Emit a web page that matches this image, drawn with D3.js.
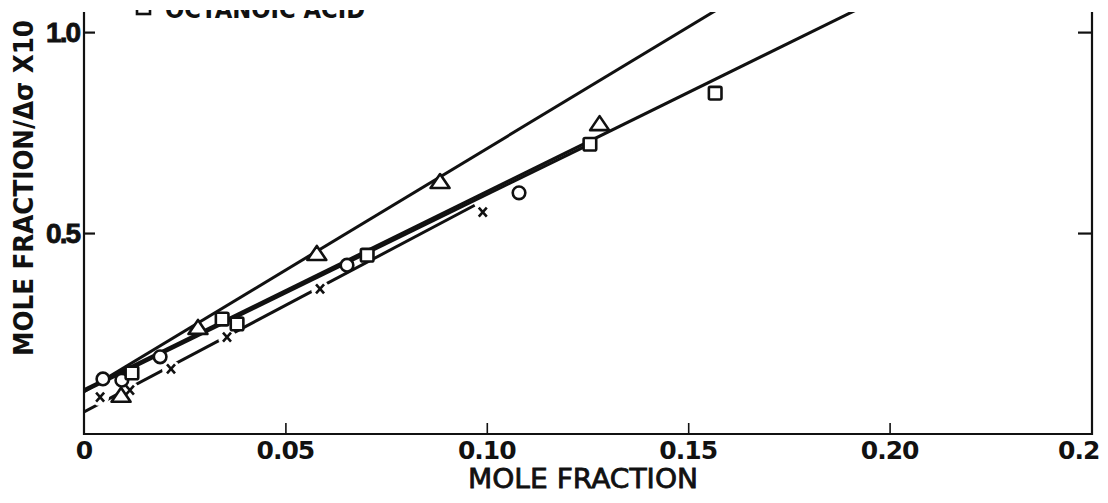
<!DOCTYPE html>
<html>
<head>
<meta charset="utf-8">
<script src="https://cdn.jsdelivr.net/npm/d3@7"></script>
<style>
  html, body { margin: 0; padding: 0; background: #fff; }
  text { fill: #111; }
</style>
</head>
<body>
<div id="chart"></div>
<script>
// values
const TRI_X = [0.0092, 0.0283, 0.0578, 0.0884, 0.128];
const TRI_Y = [0.095, 0.264, 0.448, 0.627, 0.771];
const CIR_X = [0.0047, 0.0094, 0.0189, 0.0653, 0.108];
const CIR_Y = [0.137, 0.134, 0.192, 0.420, 0.600];
const SQR_X = [0.0119, 0.0343, 0.0380, 0.0703, 0.1256, 0.1567];
const SQR_Y = [0.152, 0.286, 0.274, 0.445, 0.721, 0.848];
const CRS_X = [0.004, 0.0114, 0.0216, 0.0355, 0.0586, 0.099];
const CRS_Y = [0.092, 0.109, 0.162, 0.241, 0.361, 0.552];

// fitted lines: [intercept, slope, x start, x end]
const FITS = [
  [0.105, 6.05, 0, 0.2],     // triangles
  [0.110, 4.93, 0, 0.25],    // squares
  [0.106, 4.90, 0, 0.1256],  // circles
  [0.055, 5.30, 0, 0.097]    // crosses
];

const X_TICKS = [0, 0.05, 0.10, 0.15, 0.20, 0.25];
const X_TICK_LABELS = ["0", "0.05", "0.10", "0.15", "0.20", "0.2"];
const Y_TICKS = [0.5, 1.0];
const Y_TICK_LABELS = ["0.5", "1.0"];
const LEGEND_LABEL = "OCTANOIC ACID";

const WIDTH = 1108;
const HEIGHT = 503;
const LEFT = 84;
const RIGHT = 1091;
const TOP = 12;
const BOTTOM = 434;
const TICK = 11;

const x = d3.scaleLinear().domain([0, 0.25]).range([LEFT, RIGHT]);
const y = d3.scaleLinear().domain([0, 1.05]).range([BOTTOM, TOP]);

function zip(xs, ys) {
  return xs.map((d, i) => ({ x: d, y: ys[i] }));
}

const svg = d3.select("#chart").append("svg")
    .attr("width", WIDTH)
    .attr("height", HEIGHT);

const defs = svg.append("defs");
defs.append("clipPath").attr("id", "plot")
  .append("rect")
    .attr("x", LEFT).attr("y", TOP)
    .attr("width", RIGHT - LEFT).attr("height", BOTTOM - TOP);
defs.append("clipPath").attr("id", "top")
  .append("rect")
    .attr("x", 0).attr("y", 10)
    .attr("width", WIDTH).attr("height", HEIGHT);

// frame
svg.append("path")
    .attr("d", `M${LEFT},${TOP}V${BOTTOM}H${RIGHT + 1}V${TOP}`)
    .attr("fill", "none")
    .attr("stroke", "#111")
    .attr("stroke-width", 2.2);

// x axis (ticks point inward)
const xAxis = d3.axisTop(x)
    .tickValues(X_TICKS.slice(1, -1))
    .tickSize(TICK)
    .tickFormat("");
svg.append("g")
    .attr("transform", `translate(0,${BOTTOM})`)
    .call(xAxis)
    .call(g => g.select(".domain").remove())
    .call(g => g.selectAll("line").attr("stroke", "#111").attr("stroke-width", 1.6));

svg.append("g").selectAll("text")
  .data(X_TICKS)
  .enter().append("text")
    .attr("x", (d, i) => i === X_TICKS.length - 1 ? x(d) - 33 : x(d))
    .attr("y", 459)
    .attr("text-anchor", (d, i) => i === X_TICKS.length - 1 ? "start" : "middle")
    .attr("font-family", "DejaVu Sans")
    .attr("font-weight", "bold")
    .attr("font-size", 25)
    .attr("letter-spacing", -1)
    .text((d, i) => X_TICK_LABELS[i]);

// y axes, left and right
svg.append("g")
    .attr("transform", `translate(${LEFT},0)`)
    .call(d3.axisRight(y).tickValues(Y_TICKS).tickSize(TICK).tickFormat(""))
    .call(g => g.select(".domain").remove())
    .call(g => g.selectAll("line").attr("stroke", "#111").attr("stroke-width", 2.2));
svg.append("g")
    .attr("transform", `translate(${RIGHT + 1},0)`)
    .call(d3.axisLeft(y).tickValues(Y_TICKS).tickSize(TICK + 3).tickFormat(""))
    .call(g => g.select(".domain").remove())
    .call(g => g.selectAll("line").attr("stroke", "#111").attr("stroke-width", 2.2));

svg.append("g").selectAll("text")
  .data(Y_TICKS)
  .enter().append("text")
    .attr("x", 79)
    .attr("y", d => y(d) + 10)
    .attr("text-anchor", "end")
    .attr("font-family", "Liberation Sans")
    .attr("font-weight", "bold")
    .attr("font-size", 28)
    .attr("letter-spacing", -2)
    .attr("stroke", "#111")
    .attr("stroke-width", 0.8)
    .text((d, i) => Y_TICK_LABELS[i]);

// axis titles
svg.append("text")
    .attr("transform", "translate(33,188) rotate(-90)")
    .attr("text-anchor", "middle")
    .attr("font-family", "DejaVu Sans")
    .attr("font-weight", "bold")
    .attr("font-size", 26)
    .attr("textLength", 336)
    .attr("lengthAdjust", "spacingAndGlyphs")
    .text("MOLE FRACTION/Δσ X10");

svg.append("text")
    .attr("x", 583)
    .attr("y", 488)
    .attr("text-anchor", "middle")
    .attr("font-family", "DejaVu Sans")
    .attr("font-size", 27)
    .attr("stroke", "#111")
    .attr("stroke-width", 0.8)
    .attr("textLength", 230)
    .attr("lengthAdjust", "spacingAndGlyphs")
    .text("MOLE FRACTION");

const plot = svg.append("g").attr("clip-path", "url(#plot)");

// fitted lines
plot.selectAll("line.fit")
  .data(FITS)
  .enter().append("line")
    .attr("class", "fit")
    .attr("x1", d => x(d[2]))
    .attr("y1", d => y(d[0] + d[1] * d[2]))
    .attr("x2", d => x(d[3]))
    .attr("y2", d => y(d[0] + d[1] * d[3]))
    .attr("stroke", "#111")
    .attr("stroke-width", 3);

// crosses break their line
const crosses = plot.selectAll("g.crs")
  .data(zip(CRS_X, CRS_Y))
  .enter().append("g")
    .attr("class", "crs")
    .attr("transform", d => `translate(${x(d.x)},${y(d.y)})`);
crosses.append("circle")
    .attr("r", 9)
    .attr("fill", "#fff");
crosses.append("path")
    .attr("d", "M-4,-4.5L4,4.5M4,-4.5L-4,4.5")
    .attr("stroke", "#111")
    .attr("stroke-width", 2.6)
    .attr("fill", "none");

const marker = { fill: "#fff", stroke: "#111", "stroke-width": 2.6 };

function style(sel) {
  Object.entries(marker).forEach(([k, v]) => sel.attr(k, v));
  return sel;
}

plot.selectAll("circle.cir")
  .data(zip(CIR_X, CIR_Y))
  .enter().append("circle")
    .attr("class", "cir")
    .attr("cx", d => x(d.x))
    .attr("cy", d => y(d.y))
    .attr("r", 6.3)
    .call(style);

plot.selectAll("rect.sqr")
  .data(zip(SQR_X, SQR_Y))
  .enter().append("rect")
    .attr("class", "sqr")
    .attr("x", d => x(d.x) - 6.3)
    .attr("y", d => y(d.y) - 6.3)
    .attr("width", 12.6)
    .attr("height", 12.6)
    .attr("rx", 1.5)
    .call(style);

plot.selectAll("path.tri")
  .data(zip(TRI_X, TRI_Y))
  .enter().append("path")
    .attr("class", "tri")
    .attr("transform", d => `translate(${x(d.x)},${y(d.y)})`)
    .attr("d", "M0,-8L9.5,6L-9.5,6Z")
    .attr("stroke-linejoin", "round")
    .call(style);

// legend, cut by the top of the scan
const legend = svg.append("g").attr("clip-path", "url(#top)");
legend.append("rect")
    .attr("x", 137)
    .attr("y", 2)
    .attr("width", 13)
    .attr("height", 12)
    .call(style);
legend.append("text")
    .attr("x", 165)
    .attr("y", 18)
    .attr("font-family", "DejaVu Sans")
    .attr("font-weight", "bold")
    .attr("font-size", 24)
    .attr("textLength", 200)
    .attr("lengthAdjust", "spacingAndGlyphs")
    .text(LEGEND_LABEL);
</script>
</body>
</html>
